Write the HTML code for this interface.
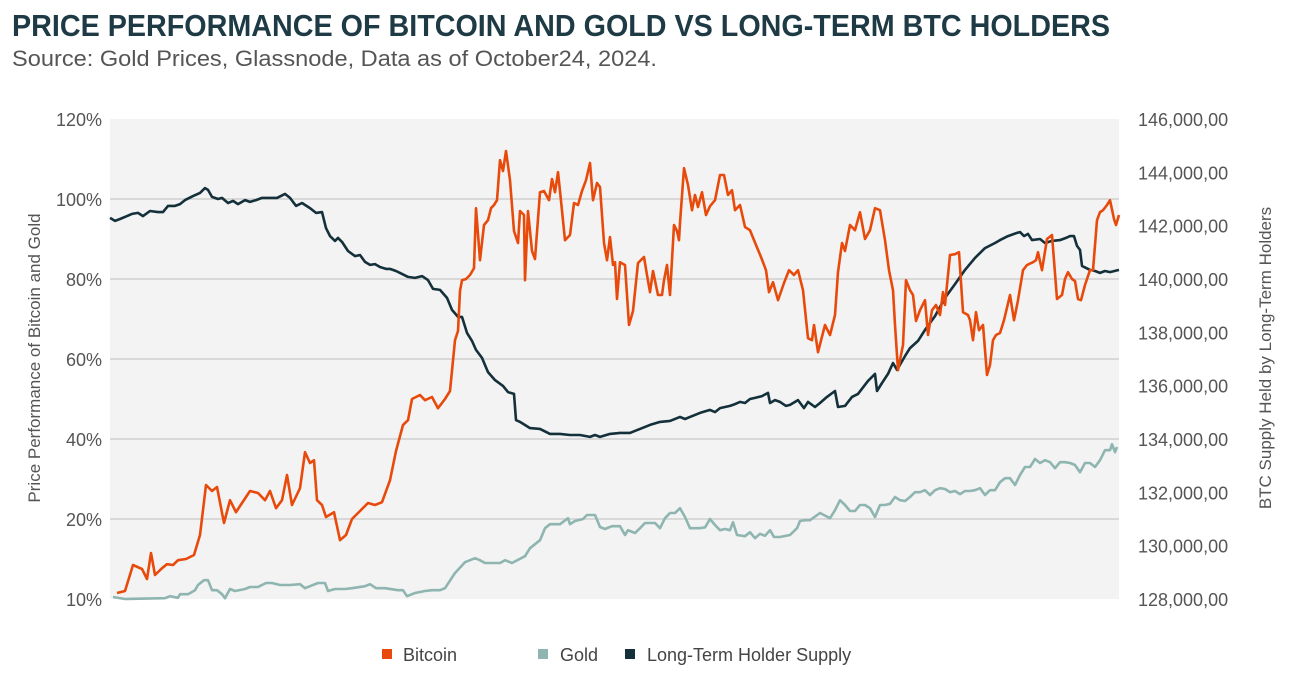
<!DOCTYPE html>
<html><head><meta charset="utf-8"><style>
html,body{margin:0;padding:0;background:#fff;}
svg{display:block;font-family:"Liberation Sans",sans-serif;}
</style></head><body>
<svg id="chart" width="1296" height="686" viewBox="0 0 1296 686" xmlns="http://www.w3.org/2000/svg">
<text x="12" y="36" font-family="'Liberation Sans Narrow','Liberation Sans',sans-serif" font-weight="bold" font-size="31" fill="#1d3a45" textLength="1098" lengthAdjust="spacingAndGlyphs">PRICE PERFORMANCE OF BITCOIN AND GOLD VS LONG-TERM BTC HOLDERS</text>
<text x="12" y="66" font-size="22" fill="#555" textLength="645" lengthAdjust="spacingAndGlyphs">Source: Gold Prices, Glassnode, Data as of October24, 2024.</text>
<rect x="110" y="119" width="1009" height="480" fill="#f3f3f3"/>
<g id="grid"></g>
<g id="series"></g>
<g id="axes"></g>
<text transform="translate(40,358) rotate(-90)" text-anchor="middle" font-size="17" fill="#555">Price  Performance of Bitcoin and Gold</text>
<text transform="translate(1271,358) rotate(-90)" text-anchor="middle" font-size="17" fill="#555">BTC Supply Held by Long-Term Holders</text>
<g>
<g><rect x="382" y="649" width="10" height="10" fill="#e84a0c"/><text x="403" y="661" font-size="18" fill="#444">Bitcoin</text></g>
<g><rect x="538" y="649" width="10" height="10" fill="#8fb5b0"/><text x="560" y="661" font-size="18" fill="#444">Gold</text></g>
<g><rect x="625" y="649" width="10" height="10" fill="#14303a"/><text x="647" y="661" font-size="18" fill="#444">Long-Term Holder Supply</text></g>
</g>
</svg>
<script>
const leftTicks=[0,20,40,60,80,100,120];
const leftTickLabels=["10%","20%","40%","60%","80%","100%","120%"];
const rightTicks=[128,130,132,134,136,138,140,142,144,146];
const rightTickLabels=["128,000,00","130,000,00","132,000,00","134,000,00","136,000,00","138,000,00","140,000,00","142,000,00","144,000,00","146,000,00"];
const btcDays=[7,15,23,32,37,41,45,52,57,63,68,76,84,90,96,102,107,114,120,126,132,140,148,155,160,166,172,177,182,190,195,200,204,207,212,216,224,230,236,242,250,258,265,272,280,286,293,298,302,310,315,322,328,335,340,345,348,350,352,356,360,364,366,370,374,378,381,384,387,390,393,396,400,404,408,410,414,415,418,422,425,430,434,439,442,445,448,450,455,460,464,468,472,476,480,483,487,490,494,497,500,503,505,507,510,515,519,523,528,534,537,540,543,548,552,554,557,560,564,567,569,570,574,578,582,585,588,592,596,600,605,610,614,618,622,625,630,635,640,646,651,656,659,663,668,674,679,684,688,693,698,702,704,708,715,720,725,728,732,735,740,745,750,755,760,765,770,775,779,783,785,788,791,793,796,800,803,806,810,815,818,822,826,830,833,835,840,845,849,853,858,860,863,866,869,873,877,880,883,886,890,894,900,904,908,913,917,923,926,928,932,937,942,947,952,955,958,962,965,968,971,975,980,983,987,990,993,997,1000,1004,1006,1009];
const btcValues=[1.5,2,8.5,7.5,5,11.5,6,7.7,8.7,8.5,9.7,10,11,16,28.5,27,28,19,24.7,21.7,24,27,26.5,24.7,27,22.7,24.7,31,23.5,27.7,36.7,34,34.7,24.7,23.5,20.5,21.7,14.7,16,20,22,24,23.5,24.2,29.7,37,43.5,44.7,50,51,49.7,50.5,47.7,50,52,64.7,67,77,79.7,80,81,82.7,97.7,84.7,93.5,94.7,97.7,98.5,99.7,109.7,107,112,104.7,92,89,97,96,79.7,97,87,85,101.7,102,99.7,105,101.7,106.7,102,89.7,91,99,98.5,102,104.7,109,99.7,104,103,89,84.7,90.5,83.5,84.2,75,84.2,83.5,68.5,72,84,85.5,81,76.7,82,76,76,79.7,83.5,76,93.5,92,89.7,94,107.7,103.5,97.2,101,98,101.7,96,98.2,99.7,106,106,101,102.2,97.2,98.5,93,92.2,88.5,85.5,82.2,76.7,79.2,74.7,79,82.2,81,82.2,77.2,65.2,64.7,68.5,61.7,68.5,66,71,81.7,89,87,93.5,92.2,96.7,90,92.2,97.7,97.2,89.7,82.2,77.2,68.5,57.2,61,63.5,79.7,77.2,76,69.5,72.2,74.7,66,72.2,73.5,71,76.7,73.5,86,86.2,86.7,71.7,71,69.7,64.7,71.7,67.2,68.5,56,58.5,64.7,66,66.5,69.7,76,69.7,74.7,82.2,83.5,84.2,84.7,86.7,82.2,90,91,75,76,80,81.7,80,79.5,75,74.7,78.5,82.2,82.2,94.7,96.7,97.2,98.5,99.7,95,93.5,96,97.7];
const goldDays=[3,15,55,60,68,70,78,85,88,94,98,102,107,112,115,120,125,135,140,148,156,162,170,180,190,195,208,215,218,225,235,242,255,260,266,275,288,293,297,305,315,322,330,335,345,355,365,370,375,380,390,395,402,415,420,430,435,440,450,458,460,465,473,477,485,490,495,502,510,515,518,525,530,535,545,550,555,560,565,570,575,580,590,595,600,605,610,615,620,623,627,635,640,645,650,655,660,664,670,680,687,690,695,700,710,720,725,730,735,740,745,750,755,760,765,770,775,780,785,790,795,800,805,810,815,820,825,830,835,840,845,850,855,860,865,870,875,880,885,890,895,900,905,910,915,920,925,930,935,940,945,950,955,960,965,970,975,980,985,990,995,1000,1002,1005,1007,1009];
const goldValues=[0.5,0,0.2,0.7,0.3,1.2,1.2,2.2,3.5,4.7,4.7,2.2,2.2,1.2,0.2,2.5,2,2.5,3,3,4,4,3.5,3.5,3.7,2.7,4,4,2,2.5,2.5,2.7,3.2,3.7,2.7,2.7,2.2,2.2,0.7,1.5,2,2.2,2.2,2.7,6.5,9.2,10.2,9.7,9,9,9,9.7,9,10.7,12.7,14.7,17.7,18.7,18.7,20.2,18.7,19.5,20,21,21,18,17.5,18.2,18.2,16,17.2,16.5,17.7,19,19,17.7,20.2,21.5,21.5,22.7,20.5,17.7,17.7,17.9,20,18.5,17.2,17.5,17.2,19.2,16,15.7,16.7,15.2,16.3,15.8,17.2,15.5,15.5,16,17.7,19.5,19.7,19.7,21.5,20.2,22.2,24.7,23.5,22,22,23.5,23.5,22.7,20.5,23.5,23.5,23.8,25.5,24.7,24.5,25.5,26.7,26.7,27.2,26,27.2,27.7,27.5,26.7,27,26.2,27,27,27.2,27.7,26,27.2,27.2,29.2,30.2,30.2,28.5,31,33,33,35,34,34.7,34.2,32.7,34.2,34.2,34,33.5,31.7,34,34,33,34.7,37.2,37.2,38.7,36.7,38];
const lthDays=[0,5,10,17,22,28,33,40,48,53,58,65,70,75,83,90,95,98,102,108,112,118,123,128,135,140,146,152,158,167,175,180,186,192,200,206,212,216,220,225,228,232,238,245,250,255,260,265,270,276,280,286,290,298,305,312,318,323,330,337,342,348,352,357,362,366,372,378,385,393,398,404,406,410,420,430,440,450,460,470,480,485,490,500,510,520,530,540,550,560,570,575,580,590,600,605,610,620,625,630,635,640,645,652,658,660,665,670,676,680,688,694,698,705,710,717,725,728,735,742,748,758,765,767,772,778,783,787,795,800,808,815,825,835,845,855,865,875,885,890,898,907,910,914,918,922,930,935,942,950,956,960,964,967,970,972,980,985,990,995,1000,1009];
const lthValues=[142.29,142.18,142.25,142.36,142.44,142.48,142.36,142.55,142.51,142.51,142.74,142.74,142.81,142.96,143.11,143.23,143.41,143.34,143.08,143.0,143.04,142.85,142.93,142.81,142.96,142.89,142.96,143.04,143.04,143.04,143.19,143.04,142.74,142.85,142.66,142.48,142.51,141.91,141.61,141.43,141.54,141.39,141.05,140.86,140.90,140.64,140.53,140.56,140.45,140.38,140.38,140.30,140.23,140.08,140.04,140.11,139.96,139.63,139.59,139.29,138.84,138.58,138.58,137.98,137.68,137.34,137.04,136.51,136.21,135.99,135.76,135.69,134.71,134.64,134.41,134.38,134.19,134.19,134.15,134.15,134.08,134.15,134.08,134.19,134.23,134.23,134.38,134.53,134.64,134.68,134.83,134.75,134.83,134.98,135.09,135.01,135.16,135.24,135.31,135.39,135.35,135.50,135.54,135.61,135.73,135.35,135.46,135.39,135.24,135.28,135.46,135.16,135.39,135.20,135.35,135.58,135.80,135.20,135.24,135.58,135.69,136.18,136.44,135.80,136.10,136.44,136.85,136.59,137.11,137.41,137.68,138.09,138.61,139.29,139.81,140.34,140.79,141.16,141.35,141.46,141.61,141.73,141.76,141.61,141.69,141.46,141.50,141.35,141.43,141.46,141.54,141.61,141.61,141.24,141.09,140.49,140.34,140.30,140.23,140.30,140.26,140.34];

const X0=110,X1=1119,YT=119,YB=599,DMAX=1009;
function xScale(d){return X0+(d/DMAX)*(X1-X0);}
function yLeft(v){return YB-(v/120)*(YB-YT);}
function yRight(v){return YB-((v-128)/18)*(YB-YT);}
const NS="http://www.w3.org/2000/svg";
const grid=document.getElementById('grid'),axes=document.getElementById('axes'),series=document.getElementById('series');
leftTicks.forEach((t,i)=>{
  const y=yLeft(t);
  if(t>0&&t<120){
    const l=document.createElementNS(NS,'line');
    l.setAttribute('x1',X0);l.setAttribute('x2',X1);l.setAttribute('y1',y);l.setAttribute('y2',y);
    l.setAttribute('stroke','#cfcfcf');l.setAttribute('stroke-width','1.5');
    
    
    grid.appendChild(l);
  }
  const tx=document.createElementNS(NS,'text');
  tx.setAttribute('x',102);tx.setAttribute('y',y+7);tx.setAttribute('text-anchor','end');
  tx.setAttribute('font-size','18');tx.setAttribute('fill','#555');
  tx.textContent=leftTickLabels[i];
  
  
  axes.appendChild(tx);
});
rightTicks.forEach((t,i)=>{
  const y=yRight(t);
  const tx=document.createElementNS(NS,'text');
  tx.setAttribute('x',1138);tx.setAttribute('y',y+7);
  tx.setAttribute('font-size','18');tx.setAttribute('fill','#555');
  tx.textContent=rightTickLabels[i];
  
  
  axes.appendChild(tx);
});
function drawLine(days,vals,yf,color,name){
  const p=document.createElementNS(NS,'polyline');
  p.setAttribute('points',days.map((d,i)=>xScale(d).toFixed(1)+','+yf(vals[i]).toFixed(1)).join(' '));
  p.setAttribute('fill','none');p.setAttribute('stroke',color);p.setAttribute('stroke-width','2.6');
  p.setAttribute('stroke-linejoin','round');
  
  
  series.appendChild(p);
}
drawLine(goldDays,goldValues,yLeft,'#8fb5b0','gold-line');
drawLine(lthDays,lthValues,yRight,'#14303a','lth-supply-line');
drawLine(btcDays,btcValues,yLeft,'#e84a0c','bitcoin-line');
</script>
</body></html>
